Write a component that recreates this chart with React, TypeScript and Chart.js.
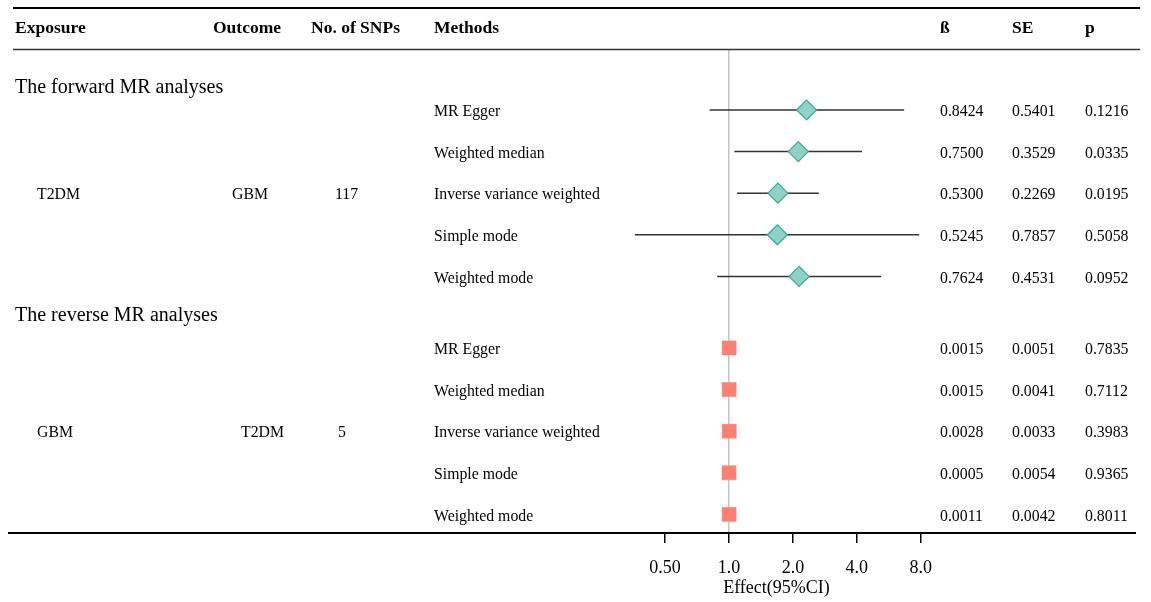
import React, { useEffect, useRef } from 'react';
import { Chart, registerables } from 'chart.js';

Chart.register(...registerables);

// ---------- data ----------
const headers = ['Exposure', 'Outcome', 'No. of SNPs', 'Methods', 'ß', 'SE', 'p'];
const sections = ['The forward MR analyses', 'The reverse MR analyses'];
const exposures = ['T2DM', 'GBM'];
const outcomes = ['GBM', 'T2DM'];
const snps = ['117', '5'];
const methods = ['MR Egger', 'Weighted median', 'Inverse variance weighted', 'Simple mode', 'Weighted mode'];

const fwdBeta = ['0.8424', '0.7500', '0.5300', '0.5245', '0.7624'];
const fwdSE = ['0.5401', '0.3529', '0.2269', '0.7857', '0.4531'];
const fwdP = ['0.1216', '0.0335', '0.0195', '0.5058', '0.0952'];
const fwdOR = [2.32, 2.12, 1.70, 1.69, 2.14];
const fwdLo = [0.81, 1.06, 1.09, 0.36, 0.88];
const fwdHi = [6.69, 4.23, 2.65, 7.88, 5.21];

const revBeta = ['0.0015', '0.0015', '0.0028', '0.0005', '0.0011'];
const revSE = ['0.0051', '0.0041', '0.0033', '0.0054', '0.0042'];
const revP = ['0.7835', '0.7112', '0.3983', '0.9365', '0.8011'];
const revOR = [1.0015, 1.0015, 1.0028, 1.0005, 1.0011];
const revLo = [0.9915, 0.9935, 0.9963, 0.9900, 0.9929];
const revHi = [1.0116, 1.0096, 1.0093, 1.0111, 1.0093];

const tickVals = [0.5, 1, 2, 4, 8];
const tickLabels = ['0.50', '1.0', '2.0', '4.0', '8.0'];
const axisTitle = 'Effect(95%CI)';

// ---------- layout ----------
const W = 1151;
const H = 602;
const SEC2 = 5.72; // row offset of the second section
const fwdPos = methods.map((_, i) => i);
const revPos = methods.map((_, i) => SEC2 + i);
const secPos = [-0.577, 4.9];
const headerPos = -2;
const TEXT_DY = 2;
const FONT = '"Liberation Serif", "Times New Roman", serif';

const headerX = [15, 213, 311, 434, 940, 1012, 1085];
const expX = [37, 37];
const outX = [232, 241];
const snpX = [335, 338];
const valX = [940, 1012, 1085];

const tablePlugin = {
  id: 'tableText',
  afterDraw(chart: any) {
    const ctx = chart.ctx;
    const ys = chart.scales.y;
    const py = (v: number) => ys.getPixelForValue(v) + TEXT_DY;
    ctx.save();
    // rules
    ctx.strokeStyle = '#000';
    ctx.lineWidth = 2;
    ctx.beginPath();
    ctx.moveTo(13, 8);
    ctx.lineTo(1140, 8);
    ctx.stroke();
    ctx.lineWidth = 1.5;
    ctx.strokeStyle = '#333';
    ctx.beginPath();
    ctx.moveTo(13, 49.5);
    ctx.lineTo(1140, 49.5);
    ctx.stroke();
    ctx.lineWidth = 2;
    ctx.strokeStyle = '#000';
    ctx.beginPath();
    ctx.moveTo(8, 533);
    ctx.lineTo(1136, 533);
    ctx.stroke();

    ctx.fillStyle = '#000';
    ctx.textBaseline = 'middle';
    ctx.textAlign = 'left';
    ctx.font = `bold 17.5px ${FONT}`;
    headers.forEach((h, i) => ctx.fillText(h, headerX[i], py(headerPos)));

    ctx.font = `20px ${FONT}`;
    sections.forEach((s, i) => ctx.fillText(s, 15, py(secPos[i])));

    ctx.font = `15.8px ${FONT}`;
    const posSets = [fwdPos, revPos];
    const valSets = [
      [fwdBeta, fwdSE, fwdP],
      [revBeta, revSE, revP],
    ];
    posSets.forEach((pos, s) => {
      ctx.fillText(exposures[s], expX[s], py(pos[2]));
      ctx.fillText(outcomes[s], outX[s], py(pos[2]));
      ctx.fillText(snps[s], snpX[s], py(pos[2]));
      methods.forEach((m, i) => {
        ctx.fillText(m, 434, py(pos[i]));
        valSets[s].forEach((col, c) => ctx.fillText(col[i], valX[c], py(pos[i])));
      });
    });
    ctx.restore();
  },
};

export default function App() {
  const ref = useRef<HTMLCanvasElement>(null);
  useEffect(() => {
    if (!ref.current) return;
    const ciData = [
      ...fwdPos.map((p, i) => [fwdLo[i], fwdHi[i], p]),
      ...revPos.map((p, i) => [revLo[i], revHi[i], p]),
    ];
    const ciSets = ciData.map((d) => ({
      type: 'line' as const,
      data: [
        { x: d[0], y: d[2] },
        { x: d[1], y: d[2] },
      ],
      borderColor: '#333333',
      borderWidth: 1.5,
      pointRadius: 0,
      order: 2,
    }));
    const chart = new Chart(ref.current, {
      type: 'scatter',
      data: {
        datasets: [
          ...ciSets,
          {
            type: 'scatter',
            data: fwdOR.map((v, i) => ({ x: v, y: fwdPos[i] })),
            pointStyle: 'rectRot',
            pointRadius: 10,
            backgroundColor: '#8fd1c6',
            borderColor: '#3aa99c',
            borderWidth: 1.2,
            order: 0,
          },
          {
            type: 'scatter',
            data: revOR.map((v, i) => ({ x: v, y: revPos[i] })),
            pointStyle: 'rect',
            pointRadius: 10,
            backgroundColor: '#fa8072',
            borderColor: '#fa8a7e',
            borderWidth: 0.5,
            order: 0,
          },
        ] as any,
      },
      options: {
        animation: false,
        responsive: false,
        layout: { padding: { left: 600, right: W - 953, top: 50, bottom: 0 } },
        plugins: { legend: { display: false }, tooltip: { enabled: false } },
        scales: {
          x: {
            type: 'logarithmic',
            position: 'bottom',
            min: 0.2467,
            max: 11.36,
            afterBuildTicks: (scale: any) => {
              scale.ticks = tickVals.map((v) => ({ value: v }));
            },
            afterFit: (scale: any) => {
              scale.height = 69;
            },
            ticks: {
              callback: (_v: any, i: number) => tickLabels[i],
              font: { family: FONT, size: 18 },
              color: '#000',
              padding: 14,
              maxRotation: 0,
              autoSkip: false,
            },
            grid: {
              color: (c: any) => (c.tick && c.tick.value === 1 ? '#c4c4c4' : 'rgba(0,0,0,0)'),
              lineWidth: 1.5,
              drawTicks: true,
              tickLength: 10,
              tickColor: '#000',
              tickWidth: 1.5,
            },
            border: { display: false },
            title: {
              display: true,
              text: axisTitle,
              font: { family: FONT, size: 18 },
              color: '#000',
              padding: { top: 0, bottom: 3 },
            },
          },
          y: {
            type: 'linear',
            display: false,
            reverse: true,
            min: -1.442,
            max: 10.168,
          },
        },
      } as any,
      plugins: [tablePlugin],
    });
    return () => chart.destroy();
  }, []);
  return (
    <div style={{ position: 'absolute', left: 0, top: 0, width: W, height: H }}>
      <canvas ref={ref} width={W} height={H} style={{ display: 'block' }} />
    </div>
  );
}
